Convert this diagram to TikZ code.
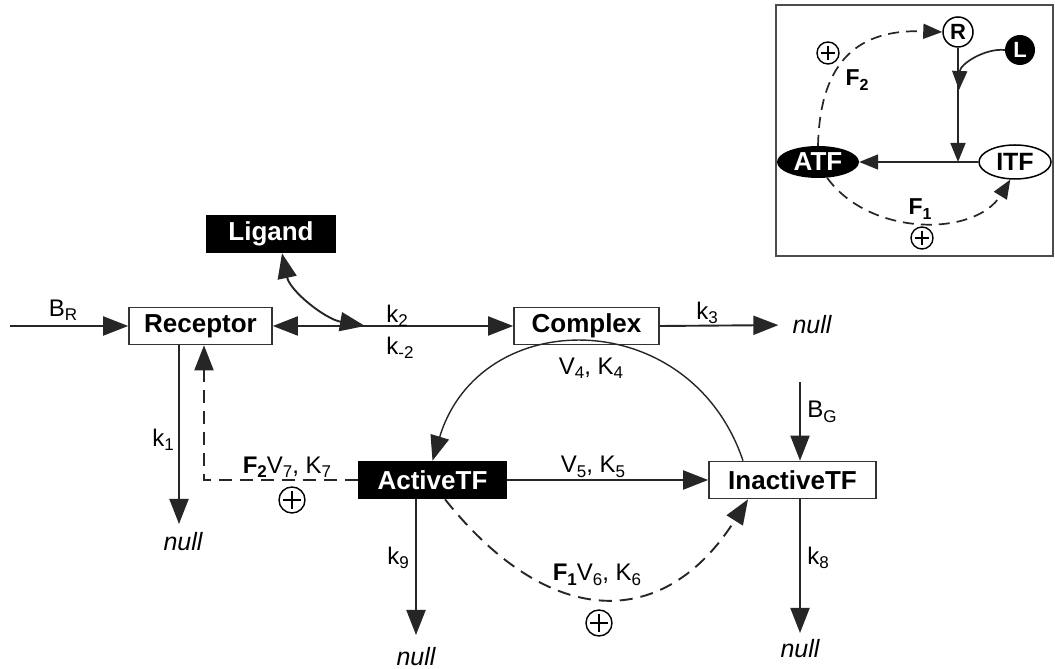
\documentclass[tikz,border=0pt]{standalone}
\usepackage{fontspec}
\setmainfont{Liberation Sans}
\usetikzlibrary{arrows.meta,shapes.geometric}
\newcommand\mysb[1]{\raisebox{-0.35ex}{\fontsize{17pt}{17pt}\selectfont #1}}
\newcommand\mysbs[1]{\raisebox{-0.35ex}{\fontsize{16pt}{16pt}\selectfont #1}}
\begin{document}
\begin{tikzpicture}[x=1pt,y=1pt,
  bigtip/.tip={Triangle[length=25pt,width=19pt]},
  smalltip/.tip={Triangle[length=19pt,width=15pt]},
  wbox/.style={draw=black!80, line width=1.6pt, fill=white, minimum height=37pt, inner sep=0pt, font=\fontsize{26pt}{26pt}\selectfont\bfseries},
  bbox/.style={wbox, fill=black, text=white, draw=black},
  lbl/.style={font=\fontsize{24pt}{24pt}\selectfont, inner sep=0pt},
  nul/.style={inner sep=0pt, font=\fontsize{25pt}{25pt}\selectfont\itshape},
  ln/.style={line width=1.9pt, draw=black!85},
  arr/.style={ln, -bigtip},
  darr/.style={arr, dash pattern=on 13pt off 8pt},
  sarr/.style={line width=1.7pt, draw=black!85, -smalltip},
  sdarr/.style={sarr, dash pattern=on 11pt off 7pt},
  plusc/.style={circle, draw, line width=1.4pt, fill=white, minimum size=#1, inner sep=0pt,
    path picture={\draw[line width=1.4pt] ([xshift=4pt]path picture bounding box.west) -- ([xshift=-4pt]path picture bounding box.east);
                  \draw[line width=1.4pt] ([yshift=-4pt]path picture bounding box.north) -- ([yshift=4pt]path picture bounding box.south);}},
  ibold/.style={inner sep=0pt, font=\fontsize{23pt}{23pt}\selectfont\bfseries},
]
\useasboundingbox (0,0) rectangle (1055,669);
\fill[white] (0,0) rectangle (1055,669);

% main nodes
\node[bbox, minimum width=128pt] (lig) at (271,435) {Ligand};
\node[wbox, minimum width=143pt] (rec) at (200.5,343) {Receptor};
\node[wbox, minimum width=145pt] (cpx) at (586.5,343) {Complex};
\node[bbox, minimum width=147pt] (atf) at (432.5,189) {ActiveTF};
\node[wbox, minimum width=167pt] (itf) at (792.5,189) {InactiveTF};

% null nodes
\node[nul] (n3) at (812,344) {null};
\node[nul] (n1) at (183,127) {null};
\node[nul] (n9) at (416,12) {null};
\node[nul] (n8) at (800,20) {null};

% coordinates
\coordinate (brin) at (10,343);
\coordinate (lj) at (365,343);
\coordinate (n1t) at (179,145);
\coordinate (n9t) at (416,34);
\coordinate (n8t) at (800,36);
\coordinate (f2c) at (204,189);
\coordinate (bg) at (800,287);

% receptor input
\draw[arr] (brin) -- (rec.west);
\node[lbl] (br) at (63,359) {B\mysb{R}};

% receptor <-> complex
\draw[ln, bigtip-bigtip] (rec.east) -- (cpx.west);
\draw[ln, bigtip-bigtip] ([xshift=11pt]lig.south) .. controls (290,378) and (325,350) .. (lj);
\node[lbl] (k2) at (397,353) {k\mysb{2}};
\node[lbl] (km2) at (400,321) {k\mysb{-2}};

% complex -> null
\draw[arr, shorten >=14pt] (cpx.east) -- (n3.west);
\node[lbl] (k3) at (707,356) {k\mysb{3}};

% receptor -> null
\draw[arr] ([xshift=-21.5pt]rec.south) -- (n1t);
\node[lbl] (k1) at (163,229) {k\mysb{1}};

% ActiveTF -> receptor (dashed)
\draw[darr] (atf.west) -- (f2c) -- (f2c |- rec.south);
\node[lbl] (l7) at (287,202) {{\bfseries F\mysb{2}}V\mysb{7}, K\mysb{7}};
\node[plusc=26pt] (p7) at (292,169) {};

% ActiveTF -> InactiveTF
\draw[arr] (atf.east) -- (itf.west);
\node[lbl] (l5) at (593,202) {V\mysb{5}, K\mysb{5}};

% InactiveTF -> ActiveTF via complex
\draw[ln, line width=1.4pt, -bigtip] ([xshift=-49.5pt]itf.north) .. controls (690,365) and (480,365) .. (atf.north);
\node[lbl] (l4) at (591,301) {V\mysb{4}, K\mysb{4}};

% B_G
\draw[arr] (bg) -- (bg |- itf.north);
\node[lbl] (bgl) at (822,257) {B\mysb{G}};

% decay
\draw[arr] ([xshift=7.5pt]itf.south) -- (n8t);
\node[lbl] (k8) at (818,111) {k\mysb{8}};
\draw[arr] ([xshift=-16.5pt]atf.south) -- (n9t);
\node[lbl] (k9) at (398,111) {k\mysb{9}};

% ActiveTF -> InactiveTF dashed
\draw[darr] ([xshift=12.5pt]atf.south) .. controls (550,38) and (665,38) .. ([xshift=-44.5pt]itf.south);
\node[lbl] (l6) at (597,94) {{\bfseries F\mysb{1}}V\mysb{6}, K\mysb{6}};
\node[plusc=26pt] (p6) at (599,46) {};

% inset
\draw[line width=1.7pt, draw=black!70] (776,664) rectangle (1053,413);
\node[circle, draw, line width=1.5pt, fill=white, minimum size=30pt, inner sep=0pt, font=\fontsize{22pt}{22pt}\selectfont\bfseries] (R) at (958,637) {R};
\node[circle, fill=black, text=white, minimum size=30pt, inner sep=0pt, font=\fontsize{22pt}{22pt}\selectfont\bfseries] (L) at (1020,619) {L};
\node[ellipse, fill=black, text=white, minimum width=82pt, minimum height=32pt, inner sep=0pt, font=\fontsize{26pt}{26pt}\selectfont\bfseries] (ATF) at (818,507) {ATF};
\node[ellipse, draw, line width=1.5pt, fill=white, minimum width=72pt, minimum height=34pt, inner sep=0pt, font=\fontsize{25pt}{25pt}\selectfont\bfseries] (ITF) at (1015,507) {ITF};
\coordinate (J) at (958,507);
\coordinate (Lt) at (959,579);
\draw[sarr] (R.south) -- (J);
\draw[sarr] (ITF.west) -- (ATF.east);
\draw[sarr] (L.west) .. controls (985,621) and (960,605) .. (Lt);
\draw[sdarr] (ATF.north) .. controls (820,610) and (860,640) .. (R.west);
\draw[sdarr] (ATF.-60) .. controls (870,432) and (975,432) .. (ITF.-105);
\node[plusc=22pt] (ip2) at (828,616) {};
\node[ibold] (f2) at (857,589) {F\mysbs{2}};
\node[ibold] (f1) at (920,460) {F\mysbs{1}};
\node[plusc=22pt] (ip1) at (922,431) {};
\end{tikzpicture}
\end{document}
